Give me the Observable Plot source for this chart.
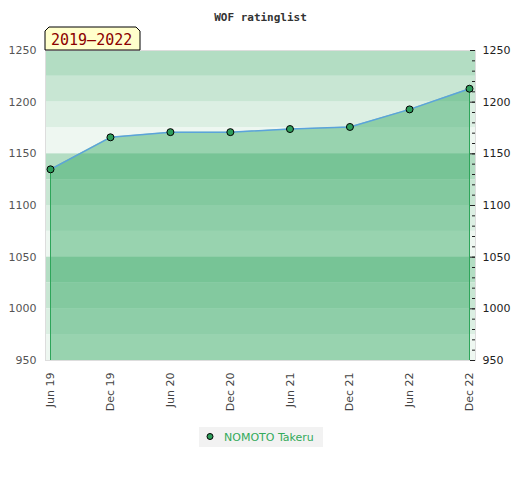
<!DOCTYPE html>
<html><head><meta charset="utf-8">
<script src="https://cdn.jsdelivr.net/npm/d3@7"></script>
<script src="https://cdn.jsdelivr.net/npm/@observablehq/plot@0.6"></script>
<style>body{margin:0;background:#fff}</style>
</head><body><div id="chart"></div>
<script>
const title = "WOF ratinglist";
const periodLabel = "2019–2022";
const playerName = "NOMOTO Takeru";
const dates = ["2019-06-01","2019-12-01","2020-06-01","2020-12-01","2021-06-01","2021-12-01","2022-06-01","2022-12-01"];
const ratings = [1135, 1166, 1171, 1171, 1174, 1176, 1193, 1213];
const yTicks = [950, 1000, 1050, 1100, 1150, 1200, 1250];
const yMinorTicks = d3.range(950, 1251, 10);
const bandBottoms = [1225, 1200, 1175, 1150, 1125, 1100, 1075, 1050, 1025, 1000, 975, 950];
const bandShades = ["#b3ddc3", "#c8e6d3", "#dcefe3", "#eef7f1"];

const data = dates.map((d, i) => ({date: new Date(d), rating: ratings[i]}));
const ends = [data[0], data[data.length - 1]];
const bands = bandBottoms.map((b, i) => ({y1: b, y2: b + 25, fill: bandShades[i % 4]}));

const W = 520, H = 480, ML = 45, MR = 45;
const frameW = W - ML - MR;

function decorations(index, scales, values, dims) {
  const g = d3.create("svg:g").attr("text-anchor", "start");
  const L = dims.marginLeft, T = dims.marginTop;
  g.append("path")
    .attr("d", `M${L},${T} L${L},${T-19} L${L+4},${T-23} L${L+91},${T-23} L${L+95},${T-19} L${L+95},${T} Z`)
    .attr("fill", "#ffffcc").attr("stroke", "#000").attr("stroke-width", 1);
  g.append("text").attr("x", L + 6).attr("y", T - 5)
    .attr("font-family", "DejaVu Sans Mono").attr("font-size", 15)
    .attr("fill", "#8b0000").text(periodLabel);
  const lx = dims.width / 2 - 61, ly = dims.height - 53;
  g.append("rect").attr("x", lx).attr("y", ly).attr("width", 124).attr("height", 20).attr("fill", "#f2f2f2");
  g.append("circle").attr("cx", lx + 11).attr("cy", ly + 9.5).attr("r", 3)
    .attr("fill", "#2e9e5b").attr("stroke", "#000").attr("stroke-width", 1);
  g.append("text").attr("x", lx + 25).attr("y", ly + 13.5)
    .attr("font-family", "DejaVu Sans").attr("font-size", 11)
    .attr("fill", "#33aa5a").text(playerName);
  return g.node();
}

const intFmt = d3.format("d");

const chart = Plot.plot({
  width: W, height: H,
  marginTop: 50, marginBottom: 120, marginLeft: ML, marginRight: MR,
  style: {fontFamily: "DejaVu Sans", fontSize: "11px", background: "#fff"},
  x: {type: "utc", domain: [data[0].date, data[data.length - 1].date], insetLeft: 5, insetRight: 6, label: null},
  y: {domain: [950, 1250], label: null},
  marks: [
    Plot.rect(bands, {y1: "y1", y2: "y2", fill: "fill"}),
    Plot.areaY(data, {x: "date", y1: 950, y2: "rating", fill: "#2fa65f", fillOpacity: 0.45}),
    Plot.ruleX(ends, {x: "date", y1: 950, y2: "rating", stroke: "#2ea55a", strokeWidth: 1}),
    Plot.line(data, {x: "date", y: "rating", stroke: "#5ba3db", strokeWidth: 1.5}),
    Plot.dot(data, {x: "date", y: "rating", r: 3.5, fill: "#2e9e5b", stroke: "#000", strokeWidth: 1}),
    Plot.frame({stroke: "#ddd"}),
    Plot.tickY(yTicks, {y: d => d, insetLeft: frameW - 5, stroke: "#222"}),
    Plot.tickY(yMinorTicks, {y: d => d, insetLeft: frameW - 3, stroke: "#222"}),
    Plot.axisY({anchor: "left", ticks: yTicks, tickFormat: intFmt, tickSize: 0, tickPadding: 9, color: "#555", label: null}),
    Plot.axisY({anchor: "right", ticks: yTicks, tickFormat: intFmt, tickSize: 0, tickPadding: 7, color: "#222", label: null}),
    Plot.axisX({ticks: data.map(d => d.date), tickFormat: d3.utcFormat("%b %y"), tickRotate: -90, tickSize: 0, tickPadding: 12, color: "#444", label: null}),
    Plot.text([title], {frameAnchor: "top", dy: -37, fontFamily: "DejaVu Sans Mono", fontWeight: "bold", fontSize: 11, fill: "#333"}),
    decorations
  ]
});
document.getElementById("chart").append(chart);
</script>
</body></html>
